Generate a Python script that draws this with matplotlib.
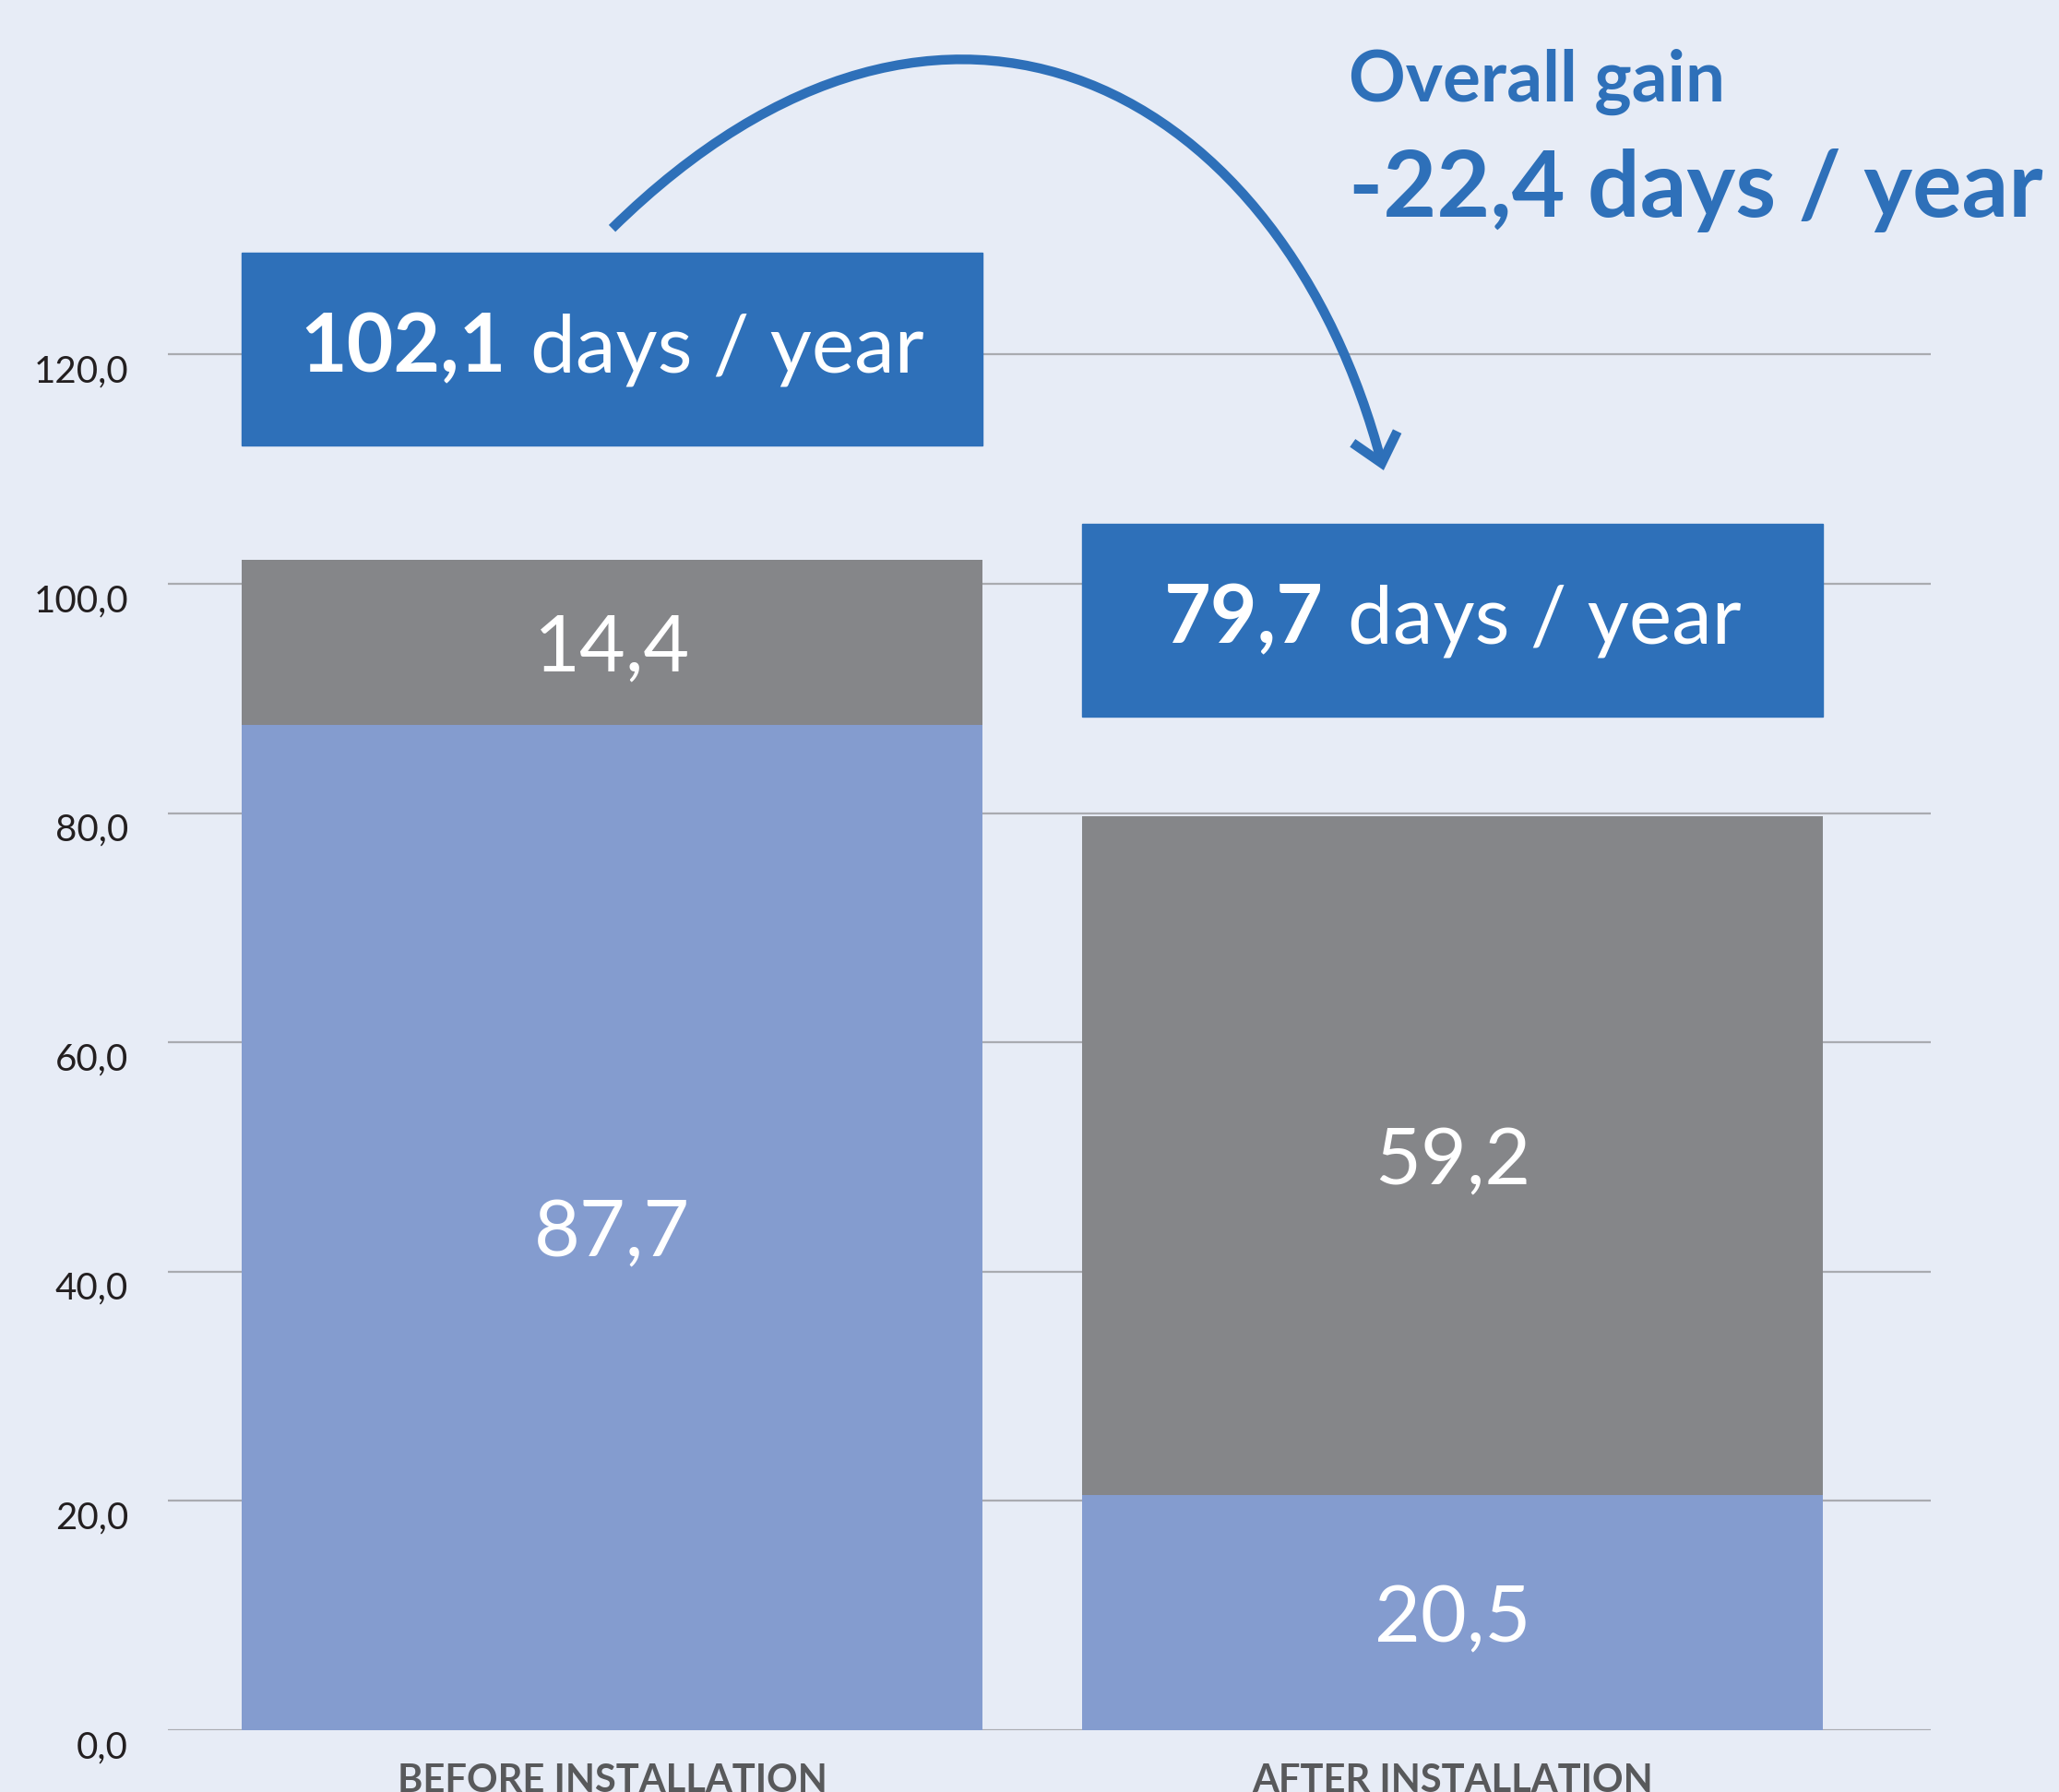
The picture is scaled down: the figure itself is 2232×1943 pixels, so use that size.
import matplotlib.pyplot as plt
from matplotlib.patches import Rectangle, FancyArrowPatch
from matplotlib.path import Path
from matplotlib.transforms import ScaledTranslation

# data
categories = ["BEFORE INSTALLATION", "AFTER INSTALLATION"]
lower_values = [87.7, 20.5]
upper_values = [14.4, 59.2]
totals = [102.1, 79.7]
overall_gain = -22.4
y_ticks = [0, 20, 40, 60, 80, 100, 120]

BG = "#E7ECF6"
BLUE = "#2E70B9"
LIGHT = "#849CCF"
GREY = "#858689"
GRID = "#A9ABB0"
FONT = "Lato"

W, H = 2232, 1943
DPI = 100


def fmt(v):
    return f"{v:.1f}".replace(".", ",")


def main():
    plt.rcParams["font.family"] = [FONT, "DejaVu Sans"]
    fig = plt.figure(figsize=(W / DPI, H / DPI), dpi=DPI, facecolor=BG)
    # axes spans the gridline area, y=0 at pixel row 1876
    ax = fig.add_axes([182 / W, 1 - 1876 / H, (2093 - 182) / W, 1876 / H])
    ax.set_facecolor(BG)
    ax.set_ylim(0, 1876 / 12.43)
    ax.set_xlim(-0.5285, 1.569)

    x = list(range(len(categories)))
    bar_w = 0.881
    ax.bar(x, lower_values, width=bar_w, color=LIGHT, zorder=2)
    ax.bar(x, upper_values, width=bar_w, bottom=lower_values, color=GREY, zorder=2)

    for i in x:
        ax.text(i, lower_values[i] / 2, fmt(lower_values[i]), ha="center",
                va="center_baseline", color="white", fontsize=62, zorder=3)
        ax.text(i, lower_values[i] + upper_values[i] / 2, fmt(upper_values[i]),
                ha="center", va="center_baseline", color="white", fontsize=62, zorder=3)
        ax.annotate(categories[i], xy=(i, 0), xytext=(0, -36), textcoords="offset pixels",
                    ha="center", va="top", color="#58595B", fontsize=30,
                    fontweight="bold", annotation_clip=False)

    # grid and ticks
    ax.set_yticks(y_ticks)
    ax.set_yticklabels([fmt(v) for v in y_ticks])
    ax.tick_params(axis="y", length=0, pad=31, labelsize=29, labelcolor="#231F20")
    for lab in ax.get_yticklabels():
        lab.set_verticalalignment("top")
    ax.set_xticks([])
    ax.grid(axis="y", color=GRID, lw=1.6, zorder=0)
    ax.set_axisbelow(True)
    for s in ax.spines.values():
        s.set_visible(False)

    # total boxes
    box_bottoms = [112.1, 88.4]
    box_h = 16.8
    renderer = fig.canvas.get_renderer()
    for i in x:
        ax.add_patch(Rectangle((i - bar_w / 2, box_bottoms[i]), bar_w, box_h,
                               color=BLUE, zorder=4, clip_on=False))
        base = box_bottoms[i] + 6.4
        t1 = ax.text(i, base, fmt(totals[i]), fontsize=63, fontweight="bold",
                     color="white", ha="left", va="baseline", zorder=5)
        t2 = ax.text(i, base, "days / year", fontsize=63, color="white",
                     ha="left", va="baseline", zorder=5)
        w1 = t1.get_window_extent(renderer).width
        w2 = t2.get_window_extent(renderer).width
        gap = 26
        start = -(w1 + gap + w2) / 2
        t1.set_transform(ax.transData + ScaledTranslation(start / DPI, 0, fig.dpi_scale_trans))
        t2.set_transform(ax.transData + ScaledTranslation((start + w1 + gap) / DPI, 0,
                                                          fig.dpi_scale_trans))

    # curved arrow from the first box to the second
    verts = [(0.0, 131.0), (0.40, 159.8), (0.80, 142.9), (0.918, 109.9)]
    codes = [Path.MOVETO, Path.CURVE4, Path.CURVE4, Path.CURVE4]
    arrow = FancyArrowPatch(path=Path(verts, codes),
                            arrowstyle="->,head_length=0.7,head_width=0.6",
                            mutation_scale=30, lw=7.5, color=BLUE, zorder=6,
                            capstyle="butt", joinstyle="miter")
    ax.add_patch(arrow)

    fig.text(1462 / W, 1 - 110 / H, "Overall gain", fontsize=55, fontweight="bold",
             color=BLUE, ha="left", va="baseline")
    fig.text(1462 / W, 1 - 235 / H, f"{fmt(overall_gain)} days / year", fontsize=72,
             fontweight="bold", color=BLUE, ha="left", va="baseline")

    fig.savefig("out.png", dpi=DPI, facecolor=BG)
    plt.close(fig)


if __name__ == "__main__":
    main()
